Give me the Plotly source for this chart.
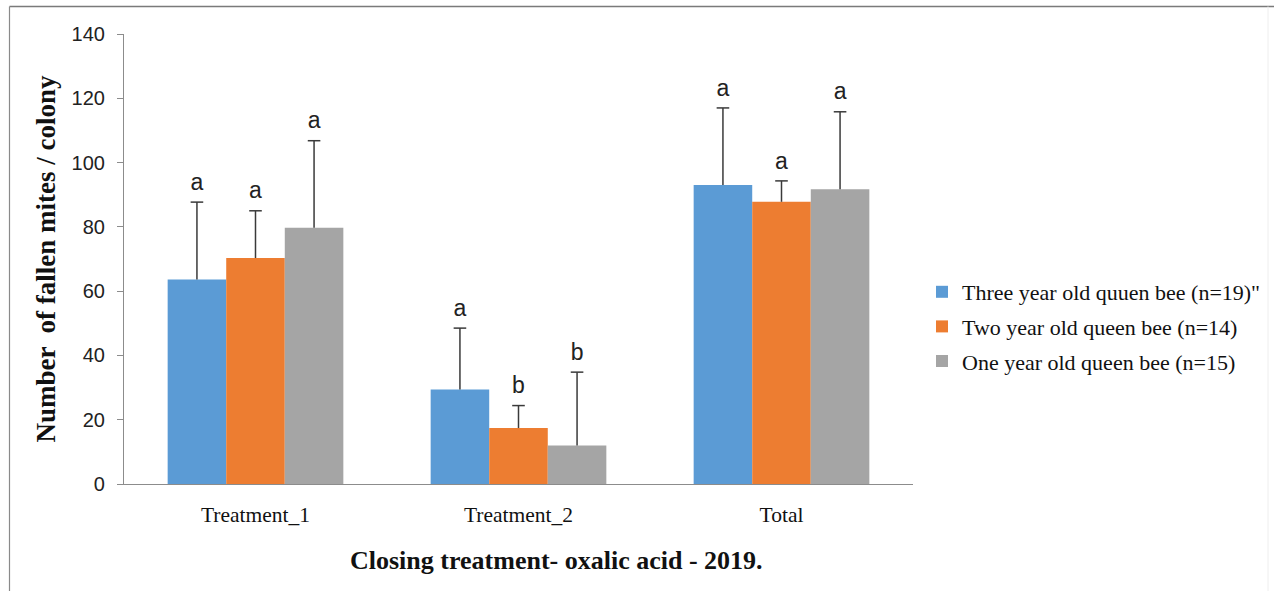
import plotly.graph_objects as go

# Groups along the x axis
categories = ["Treatment_1", "Treatment_2", "Total"]

# Queen-age series: mean fallen mites per colony and upper error
series_names = [
    "Three year old quuen bee (n=19)\"",
    "Two year old queen bee (n=14)",
    "One year old queen bee (n=15)",
]
three_year_mean = [63.6, 29.4, 93.0]
two_year_mean = [70.3, 17.4, 87.8]
one_year_mean = [79.7, 12.0, 91.7]

three_year_err = [24.1, 19.1, 24.0]
two_year_err = [14.7, 7.0, 6.5]
one_year_err = [27.1, 22.8, 24.1]

# Significance letters above each bar
three_year_letters = ["a", "a", "a"]
two_year_letters = ["a", "b", "a"]
one_year_letters = ["a", "b", "a"]

colors = ["#5B9BD5", "#ED7D31", "#A5A5A5"]

means = [three_year_mean, two_year_mean, one_year_mean]
errs = [three_year_err, two_year_err, one_year_err]
letters = [three_year_letters, two_year_letters, one_year_letters]

# Plot-area geometry in pixels (used for decorations only)
W, H = 1274, 591
ML, MR, MT, MB = 124, 361, 34, 107
PW = W - ML - MR
PH = H - MT - MB


def px_to_paper_x(px):
    return (px - ML) / PW


def px_to_paper_y(py):
    return (H - MB - py) / PH


BARGAP = 0.332
n_series = len(means)
bar_w = (1 - BARGAP) / n_series
positions = list(range(len(categories)))

fig = go.Figure()
for si, (name, m, c) in enumerate(zip(series_names, means, colors)):
    offset = (si - (n_series - 1) / 2) * bar_w
    fig.add_trace(go.Bar(
        x=positions,
        y=m,
        name=name,
        width=bar_w,
        offset=offset - bar_w / 2,
        marker=dict(color=c, line=dict(width=0)),
        legendgroup=f"g{si}",
    ))

# One-sided (upper) error bars: a stem from the bar top plus a cap at the end
ERR_COLOR = "#3a3a3a"
for si in range(n_series):
    offset = (si - (n_series - 1) / 2) * bar_w
    xs, ys, cap_x, cap_y = [], [], [], []
    for ci in positions:
        xc = ci + offset
        top = means[si][ci] + errs[si][ci]
        xs += [xc, xc, None]
        ys += [means[si][ci], top, None]
        cap_x.append(xc)
        cap_y.append(top)
    fig.add_trace(go.Scatter(
        x=xs, y=ys, mode="lines",
        line=dict(color=ERR_COLOR, width=1.5),
        showlegend=False, hoverinfo="skip",
    ))
    fig.add_trace(go.Scatter(
        x=cap_x, y=cap_y, mode="markers+text",
        marker=dict(symbol="line-ew", size=9, line=dict(color=ERR_COLOR, width=1.5)),
        text=letters[si],
        textposition="top center",
        textfont=dict(family="Liberation Sans, Arial, sans-serif", size=23, color="#222222"),
        showlegend=False, hoverinfo="skip",
    ))

# X axis title
fig.add_annotation(
    x=px_to_paper_x(556),
    y=px_to_paper_y(560),
    xref="paper",
    yref="paper",
    text="<b>Closing treatment- oxalic acid - 2019.</b>",
    showarrow=False,
    xanchor="center",
    yanchor="middle",
    font=dict(family="Liberation Serif, Times New Roman, serif", size=26, color="#111111"),
)

# Chart frame lines
fig.add_shape(type="line", xref="paper", yref="paper",
              x0=px_to_paper_x(9.5), x1=px_to_paper_x(1274),
              y0=px_to_paper_y(6.5), y1=px_to_paper_y(6.5),
              line=dict(color="#7a7a7a", width=1.5))
fig.add_shape(type="line", xref="paper", yref="paper",
              x0=px_to_paper_x(9.5), x1=px_to_paper_x(9.5),
              y0=px_to_paper_y(6.5), y1=px_to_paper_y(600),
              line=dict(color="#8a8a8a", width=1.2))
fig.add_shape(type="line", xref="paper", yref="paper",
              x0=px_to_paper_x(1268), x1=px_to_paper_x(1268),
              y0=px_to_paper_y(6.5), y1=px_to_paper_y(600),
              line=dict(color="#eeeeee", width=1))

fig.update_layout(
    width=W,
    height=H,
    margin=dict(l=ML, r=MR, t=MT, b=MB, autoexpand=False),
    paper_bgcolor="white",
    plot_bgcolor="white",
    barmode="overlay",
    showlegend=True,
    legend=dict(
        x=px_to_paper_x(922),
        y=px_to_paper_y(271),
        xanchor="left",
        yanchor="top",
        font=dict(family="Liberation Serif, Times New Roman, serif", size=22, color="#111111"),
        tracegroupgap=3,
        bgcolor="rgba(0,0,0,0)",
    ),
    xaxis=dict(
        range=[-0.5, len(categories) - 0.5],
        tickvals=positions,
        ticktext=categories,
        showline=True,
        linecolor="#8c8c8c",
        linewidth=1.2,
        ticks="",
        showgrid=False,
        zeroline=False,
        tickfont=dict(family="Liberation Serif, Times New Roman, serif", size=21.5, color="#111111"),
        ticklabelstandoff=11,
    ),
    yaxis=dict(
        range=[0, 140],
        dtick=20,
        showline=True,
        linecolor="#8c8c8c",
        linewidth=1.2,
        ticks="outside",
        ticklen=6,
        tickcolor="#8c8c8c",
        showgrid=False,
        zeroline=False,
        tickfont=dict(family="Liberation Sans, Arial, sans-serif", size=20, color="#222222"),
        ticklabelstandoff=8,
        title=dict(
            text="<b>Number  of fallen mites / colony</b>",
            font=dict(family="Liberation Serif, Times New Roman, serif", size=27, color="#111111"),
            standoff=8,
        ),
    ),
)

fig.write_html("out.html")
